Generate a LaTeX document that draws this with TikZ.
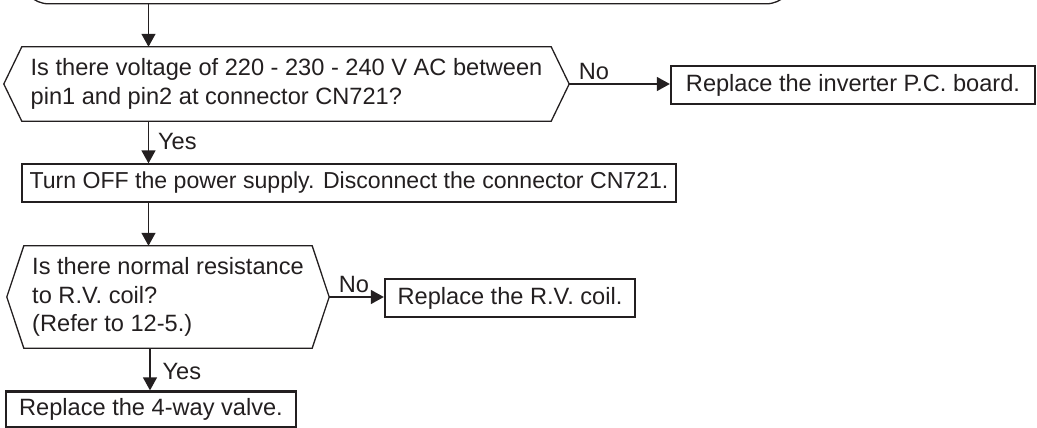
\documentclass[tikz,border=0pt]{standalone}
\usepackage{fontspec}
\setmainfont{Liberation Sans}
\usetikzlibrary{arrows.meta}
\definecolor{ink}{RGB}{35,31,32}
\newcommand\hexframe[2]{\draw[frame, line join=miter] (#1.west) -- ([xshift=#2]#1.north west) -- ([xshift=-#2]#1.north east) -- (#1.east) -- ([xshift=-#2]#1.south east) -- ([xshift=#2]#1.south west) -- cycle;}
\begin{document}
\begin{tikzpicture}[x=1pt,y=-1pt,
  every node/.style={font=\fontsize{23.6}{28.5}\selectfont, text=ink},
  frame/.style={draw=ink, line width=1.3pt},
  dec/.style={align=left, inner sep=0pt},
  proc/.style={draw=ink, line width=1.3pt, inner sep=0pt},
  res/.style={draw=ink, line width=2.3pt, inner sep=0pt},
  arr/.style={draw=ink, line width=1.3pt, -{Triangle[width=14pt,length=13pt]}},
  lab/.style={inner sep=0pt}
]
\useasboundingbox (0,0) rectangle (1037,428);
\begin{scope}
\clip (0,0) rectangle (1037,428);
\node[frame, rounded corners=28pt, minimum width=773pt, minimum height=64pt, anchor=south] (top) at (407.5,4.5) {};
\end{scope}
\coordinate (c1) at (148.5,0);
\coordinate (c2) at (150,0);

\node[dec, minimum width=565pt, minimum height=74pt] (d1) at (286.5,84) {Is there voltage of 220 - 230 - 240 V AC between\\pin1 and pin2 at connector CN721?};
\hexframe{d1}{18pt}
\node[res, minimum width=364pt, minimum height=38pt] (r1) at (853,85) {Replace the inverter P.C. board.};
\node[proc, minimum width=654pt, minimum height=38pt, font=\fontsize{23.1}{28.5}\selectfont] (p1) at (349,183) {Turn OFF the power supply. Disconnect the connector CN721.};
\node[dec, minimum width=322pt, minimum height=102pt] (d2) at (168,297) {Is there normal resistance\\to R.V. coil?\\(Refer to 12-5.)};
\hexframe{d2}{17pt}
\node[res, minimum width=250pt, minimum height=38pt] (r2) at (510,298) {Replace the R.V. coil.};
\node[res, minimum width=290pt, minimum height=36pt] (r3) at (151,409.5) {Replace the 4-way valve.};

\draw[arr] (top.south -| c1) -- (d1.north -| c1);
\draw[arr] (d1.east) -- node[lab, anchor=south west, pos=0, xshift=9pt, yshift=4pt]{No} (d1.east -| r1.west);
\draw[arr] (d1.south -| c1) -- node[lab, anchor=north west, pos=0, xshift=9pt, yshift=-11pt]{Yes} (p1.north -| c1);
\draw[arr] (p1.south -| c1) -- (d2.north -| c1);
\draw[arr] (d2.east) -- node[lab, anchor=south west, pos=0, xshift=9pt, yshift=4pt]{No} (d2.east -| r2.west);
\draw[arr] (d2.south -| c2) -- node[lab, anchor=north west, pos=0, xshift=12pt, yshift=-14pt]{Yes} (r3.north -| c2);
\end{tikzpicture}
\end{document}
